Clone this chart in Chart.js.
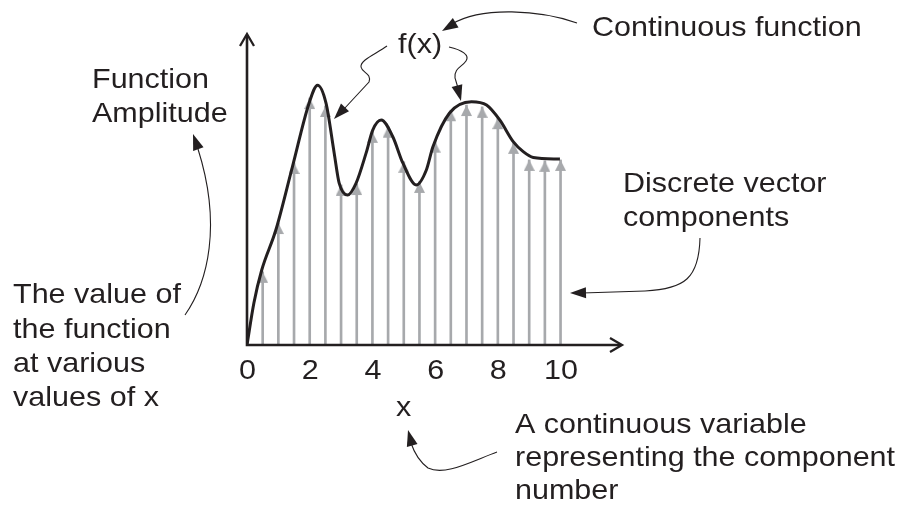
<!DOCTYPE html>
<html><head><meta charset="utf-8">
<script src="https://cdn.jsdelivr.net/npm/chart.js@4"></script>
<style>html,body{margin:0;padding:0;background:#fff}#wrap{width:908px;height:509px}</style>
</head><body><div id="wrap"><canvas id="c" width="908" height="509"></canvas></div>
<script>
// ---- data ----
const xTicks = [0, 2, 4, 6, 8, 10];
const stemX = [0.5, 1, 1.5, 2, 2.5, 3, 3.5, 4, 4.5, 5, 5.5, 6, 6.5, 7, 7.5, 8, 8.5, 9, 9.5, 10];
const stemY = [2.40, 4.00, 5.97, 8.10, 7.84, 5.25, 5.28, 6.99, 7.16, 6.01, 5.35, 6.67, 7.70, 7.87, 7.81, 7.44, 6.63, 6.07, 6.04, 6.07];
const curveX = [0, 0.22, 0.47, 0.92, 1.45, 1.98, 2.25, 2.52, 2.78, 2.94, 3.21, 3.48, 3.80, 4.01, 4.28, 4.65, 4.97, 5.40, 5.72, 5.93, 6.46, 7.16, 7.64, 8.06, 8.49, 8.81, 9.13, 9.98];
const curveY = [0, 1.38, 2.46, 3.77, 5.85, 7.93, 8.52, 7.93, 6.30, 5.31, 4.92, 5.31, 6.30, 7.05, 7.38, 6.83, 5.97, 5.25, 5.74, 6.50, 7.61, 7.98, 7.87, 7.38, 6.67, 6.34, 6.15, 6.10];
const xMax = 11.96, yMax = 10.2;

const INK = '#231f20', GREY = '#a7a9ac';
const FONT = '28px "Liberation Sans", Arial, Helvetica, sans-serif';
const STRETCH = 1.09;

// arrowhead image: tip sits exactly at the image centre
function makeHead() {
  const cv = document.createElement('canvas');
  cv.width = 11; cv.height = 24;
  const g = cv.getContext('2d');
  g.fillStyle = GREY;
  g.beginPath(); g.moveTo(5.5, 12); g.lineTo(11, 23); g.lineTo(0, 23); g.closePath(); g.fill();
  return cv;
}

function txt(ctx, s, x, y) {
  ctx.save(); ctx.translate(x, y); ctx.scale(STRETCH, 1);
  ctx.fillText(s, 0, 0); ctx.restore();
}
function head(ctx, fx, fy, tx, ty, len, hw) {
  const a = Math.atan2(ty - fy, tx - fx);
  const bx = tx - Math.cos(a) * len, by = ty - Math.sin(a) * len;
  ctx.beginPath();
  ctx.moveTo(tx, ty);
  ctx.lineTo(bx + Math.sin(a) * hw, by - Math.cos(a) * hw);
  ctx.lineTo(bx - Math.sin(a) * hw, by + Math.cos(a) * hw);
  ctx.closePath(); ctx.fill();
}

const deco = {
  id: 'deco',
  afterDraw(chart) {
    const ctx = chart.ctx, xs = chart.scales.x, ys = chart.scales.y;
    const ox = xs.getPixelForValue(0), oy = ys.getPixelForValue(0);
    const rx = xs.getPixelForValue(xMax), ty = ys.getPixelForValue(yMax);
    ctx.save();
    ctx.strokeStyle = INK; ctx.fillStyle = INK;
    // axes
    ctx.lineWidth = 2.6; ctx.lineCap = 'butt'; ctx.lineJoin = 'miter';
    ctx.beginPath(); ctx.moveTo(ox, ty + 1); ctx.lineTo(ox, oy); ctx.lineTo(rx - 1, oy); ctx.stroke();
    ctx.lineWidth = 2.3;
    ctx.beginPath(); ctx.moveTo(ox - 7, ty + 12); ctx.lineTo(ox, ty); ctx.lineTo(ox + 7, ty + 12); ctx.stroke();
    ctx.beginPath(); ctx.moveTo(rx - 12, oy - 7); ctx.lineTo(rx, oy); ctx.lineTo(rx - 12, oy + 7); ctx.stroke();

    // tick labels
    ctx.font = FONT; ctx.textBaseline = 'alphabetic';
    xTicks.forEach(v => {
      const s = String(v);
      const w = ctx.measureText(s).width * STRETCH;
      txt(ctx, s, xs.getPixelForValue(v) - w / 2 + 0.5, 379);
    });

    // annotation texts
    txt(ctx, 'Continuous function', 592, 36);
    txt(ctx, 'f(x)', 398, 53);
    txt(ctx, 'Function', 92, 88);
    txt(ctx, 'Amplitude', 92, 122);
    txt(ctx, 'Discrete vector', 623, 192);
    txt(ctx, 'components', 623, 226);
    txt(ctx, 'The value of', 13, 303);
    txt(ctx, 'the function', 13, 338);
    txt(ctx, 'at various', 13, 372);
    txt(ctx, 'values of x', 13, 406);
    txt(ctx, 'x', 396, 416);
    txt(ctx, 'A continuous variable', 515, 433);
    txt(ctx, 'representing the component', 515, 466);
    txt(ctx, 'number', 515, 499);

    // pointer arrows
    ctx.lineWidth = 1.1;
    // Continuous function -> f(x)
    ctx.beginPath(); ctx.moveTo(577, 23); ctx.bezierCurveTo(540, 10, 482, 6, 452, 24); ctx.stroke();
    head(ctx, 470, 14, 442, 31, 16, 5.5);
    // f(x) -> curve (left)
    ctx.beginPath(); ctx.moveTo(387, 46); ctx.bezierCurveTo(376, 54, 360, 60, 361, 67);
    ctx.bezierCurveTo(362, 73, 372, 73, 369, 82); ctx.lineTo(344, 109); ctx.stroke();
    head(ctx, 369, 82, 334, 119, 16, 5.5);
    // f(x) -> curve (right)
    ctx.beginPath(); ctx.moveTo(449, 47); ctx.bezierCurveTo(462, 50, 470, 55, 466, 61);
    ctx.bezierCurveTo(462, 67, 454, 68, 455, 78); ctx.lineTo(458, 88); ctx.stroke();
    head(ctx, 455, 78, 461, 101, 16, 5.5);
    // The value of ... -> Function Amplitude
    ctx.beginPath(); ctx.moveTo(185, 315); ctx.bezierCurveTo(208, 282, 222, 225, 198, 149); ctx.stroke();
    head(ctx, 204, 165, 193, 134, 16, 5.5);
    // Discrete vector components -> stems
    ctx.beginPath(); ctx.moveTo(700, 238); ctx.bezierCurveTo(699, 278, 685, 289, 645, 291); ctx.lineTo(582, 293); ctx.stroke();
    head(ctx, 620, 292, 570, 293, 16, 5.5);
    // A continuous variable -> x
    ctx.beginPath(); ctx.moveTo(497, 452); ctx.bezierCurveTo(470, 462, 445, 476, 428, 468);
    ctx.bezierCurveTo(420, 462, 414, 452, 411, 443); ctx.stroke();
    head(ctx, 414, 452, 408, 430, 16, 5.5);
    ctx.restore();
  }
};

new Chart(document.getElementById('c'), {
  data: {
    datasets: [
      {
        type: 'line',
        data: curveX.map((x, i) => ({ x, y: curveY[i] })),
        borderColor: INK, borderWidth: 3, pointRadius: 0,
        cubicInterpolationMode: 'monotone', fill: false, order: 0
      },
      {
        type: 'scatter',
        data: stemX.map((x, i) => ({ x, y: stemY[i] })),
        pointStyle: makeHead(), pointRadius: 5, order: 1
      },
      {
        type: 'bar',
        data: stemX.map((x, i) => ({ x, y: stemY[i] })),
        backgroundColor: GREY, borderWidth: 0, barThickness: 2, order: 2
      }
    ]
  },
  options: {
    responsive: false, animation: false, devicePixelRatio: 1,
    layout: { padding: { left: 247, right: 286, top: 34, bottom: 164 } },
    scales: {
      x: { type: 'linear', min: 0, max: xMax, display: false, offset: false, grid: { display: false } },
      y: { type: 'linear', min: 0, max: yMax, display: false, grid: { display: false } }
    },
    plugins: { legend: { display: false }, tooltip: { enabled: false } },
    events: []
  },
  plugins: [deco]
});
</script>
</body></html>
